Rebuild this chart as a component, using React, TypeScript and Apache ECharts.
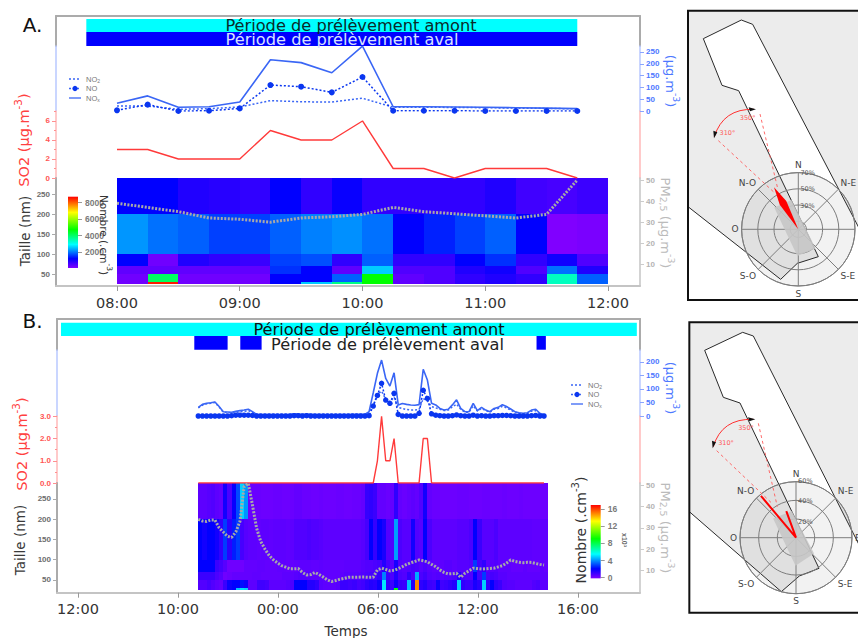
import React, { useEffect, useRef } from "react";
import * as echarts from "echarts";

const FONT = "DejaVu Sans";
const TICKFONT = "Liberation Sans";

// ---------- Panel A data ----------
const timesA = [8, 8.25, 8.5, 8.75, 9, 9.25, 9.5, 9.75, 10, 10.25, 10.5, 10.75, 11, 11.25, 11.5, 11.75];
const noxA = [33, 64, 16, 18, 38, 217, 205, 162, 275, 18, 18, 17, 16, 14, 12, 10];
const noA = [3, 27, 0, 1, 11, 110, 103, 79, 144, 1, 1, 1, 0, 0, 0, 0];
const no2A = [21, 21, 7, 10, 17, 44, 39, 38, 54, 16, 16, 15, 14, 12, 11, 9];
const so2A = [3, 3, 2, 2, 2, 5, 4, 4, 6, 1, 1, 0, 1, 1, 1, 0];
const pmA = [39, 37, 35, 32, 31.4, 30, 32, 32.6, 33.7, 37, 35, 34, 33, 32, 33.7, 50];
const rowEdgesA = [290, 200, 100, 70, 50, 30, 25];
const heatA = [
  [1220, 1220, 940, 880, 800, 1220, 800, 1150, 800, 800, 800, 800, 940, 660, 600, 700],
  [2230, 1977, 1865, 1650, 1650, 1865, 2080, 2190, 1977, 1220, 1435, 1650, 1865, 1220, 100, 150],
  [1220, 240, 940, 800, 730, 1650, 1760, 800, 1865, 800, 800, 1220, 1540, 800, 1080, 520],
  [380, 380, 380, 380, 380, 1540, 1220, 380, 2594, 520, 520, 940, 1080, 520, 1977, 940],
  [240, 4060, 240, 240, 240, 1220, 1220, 1865, 4744, 380, 520, 800, 940, 800, 3390, 1865],
  [240, 8500, 240, 240, 240, 1220, 2594, 3800, 4744, 380, 520, 800, 940, 800, 3390, 1865],
];
const amontA = [[7.75, 11.75]];
const avalA = [[7.75, 11.75]];
const timeTicksA = [8, 9, 10, 11, 12];
const timeLabelsA = ["08:00", "09:00", "10:00", "11:00", "12:00"];

// ---------- Panel B data ----------
const noxB = [32, 43, 47, 49, 52, 35, 16, 15, 14, 17, 20, 22, 25, 16, 6, 5, 5, 5, 5, 5, 5, 5, 6, 8, 7, 6, 7, 6, 5, 5, 5, 5, 5, 5, 5, 5, 5, 6, 6, 6, 6, 16, 86, 158, 207, 139, 111, 160, 41, 46, 43, 41, 40, 42, 173, 133, 47, 41, 28, 22, 25, 41, 60, 28, 16, 16, 47, 20, 32, 22, 16, 28, 32, 42, 35, 26, 16, 12, 10, 12, 22, 25, 10, 5];
const noB = [0, 0, 0, 0, 0, 0, 0, 0, 1, 3, 3, 3, 3, 2, 0, 0, 0, 0, 0, 0, 0, 0, 0, 1, 1, 0, 1, 0, 0, 0, 0, 0, 0, 0, 0, 0, 0, 0, 0, 0, 0, 1, 37, 76, 121, 59, 47, 84, 6, 0, 0, 0, 0, 10, 95, 65, 8, 3, 1, 0, 0, 1, 4, 1, 0, 0, 3, 0, 1, 0, 0, 1, 1, 2, 2, 1, 0, 0, 0, 0, 1, 2, 0, 0];
const no2B = [30, 40, 45, 47, 50, 33, 14, 13, 12, 12, 15, 17, 20, 13, 5, 4, 4, 4, 4, 4, 4, 4, 5, 6, 5, 5, 5, 5, 4, 4, 4, 4, 4, 4, 4, 4, 4, 5, 5, 5, 5, 14, 40, 80, 92, 62, 52, 70, 32, 28, 24, 22, 22, 24, 65, 55, 35, 30, 25, 20, 22, 34, 44, 25, 14, 14, 38, 18, 28, 20, 14, 25, 28, 36, 30, 22, 14, 10, 8, 10, 18, 20, 8, 4];
const so2B = [0, 0, 0, 0, 0, 0, 0, 0, 0, 0, 0, 0, 0, 0, 0, 0, 0, 0, 0, 0, 0, 0, 0, 0, 0, 0, 0, 0, 0, 0, 0, 0, 0, 0, 0, 0, 0, 0, 0, 0, 0, 0, 0, 1, 3, 1, 1, 2, 0, 0, 0, 0, 0, 0, 2, 2, 0, 0, 0, 0, 0, 0, 0, 0, 0, 0, 0, 0, 0, 0, 0, 0, 0, 0, 0, 0, 0, 0, 0, 0, 0, 0, 0, 0];
const pmB = [34, 33.2, 33, 33.7, 33.7, 30, 28, 26, 25.5, 28, 33, 49.4, 51, 40.7, 29.8, 23.5, 20, 17, 15, 13.5, 12.2, 11.5, 10.7, 10.7, 10.8, 9, 7.8, 8, 9, 8, 6.8, 5.5, 4.7, 5.2, 5.8, 6.2, 6.7, 6.7, 6.7, 6.8, 6.8, 6.7, 6.7, 10.2, 11, 10.4, 9.7, 10, 10.8, 11.7, 12.8, 13.5, 14.2, 14.9, 14.5, 14, 12.8, 11.7, 10.2, 9, 8.3, 8.4, 8.6, 6.7, 8.6, 9.8, 11, 10.8, 10.6, 10.7, 10.9, 11, 11.6, 12.2, 13.4, 14.9, 14.2, 13.8, 13.6, 13.8, 13.7, 13.2, 12.8, 12.5];
const rowEdgesB = [289, 200, 100, 70, 50, 30, 25];
const heatB = [
  [0.6, 0.6, 0.7, 0.8, 0.6, 0.5, 1.9, 0.9, 2.1, 3.2, 5, 4.2, 0.4, 0.4, 0.4, 0.35, 0.35, 0.35, 0.4, 0.4, 0.35, 0.35, 0.4, 0.5, 0.5, 0.4, 0.4, 0.35, 0.35, 0.4, 0.35, 0.35, 0.35, 0.4, 0.4, 0.35, 0.35, 0.4, 0.4, 0.5, 1.3, 1.4, 1.2, 0.5, 0.5, 0.4, 0.5, 1.4, 0.5, 0.4, 0.5, 0.6, 0.5, 0.8, 1.9, 0.5, 0.4, 0.4, 0.35, 0.35, 0.35, 0.35, 0.4, 0.4, 0.4, 0.35, 0.35, 0.35, 0.4, 0.4, 0.35, 0.35, 0.35, 0.4, 0.35, 0.35, 0.35, 0.4, 0.35, 0.35, 0.35, 0.35, 0.35, 0.35],
  [2.2, 1.9, 2.2, 2.2, 1.9, 1.4, 3, 1.5, 2.6, 3, 1, 0.7, 0.6, 0.6, 0.55, 0.6, 0.6, 0.55, 0.6, 0.6, 0.6, 0.55, 0.6, 0.8, 0.8, 0.8, 0.9, 0.8, 0.8, 0.7, 0.6, 0.6, 0.6, 0.6, 0.6, 0.6, 0.6, 0.6, 0.6, 0.7, 1, 2.2, 1.3, 2.2, 1.8, 0.8, 0.8, 4.3, 0.9, 0.7, 0.7, 1.9, 0.8, 0.7, 2.2, 0.9, 0.6, 0.6, 0.6, 0.6, 0.6, 0.6, 0.7, 0.7, 0.7, 0.9, 2.2, 1.2, 0.7, 0.7, 0.7, 0.9, 0.6, 0.6, 0.6, 0.6, 0.6, 0.6, 0.6, 0.6, 0.55, 0.55, 0.55, 0.55],
  [2.2, 2.2, 2.2, 2.2, 1.2, 1, 0.7, 0.3, 0.3, 0.3, 0.3, 0.5, 0.5, 0.5, 0.55, 0.55, 0.5, 0.5, 0.5, 0.55, 0.55, 0.5, 0.5, 0.55, 0.6, 0.6, 0.6, 0.55, 0.55, 0.6, 0.55, 0.55, 0.55, 0.55, 0.55, 0.6, 0.6, 0.6, 0.6, 0.7, 0.8, 0.8, 0.9, 1, 1.6, 1, 0.7, 1.8, 0.8, 0.7, 0.8, 1, 0.9, 0.7, 0.9, 0.7, 0.6, 0.6, 0.6, 0.7, 0.7, 0.6, 0.7, 0.7, 0.7, 0.8, 3, 1.1, 1.4, 0.7, 0.7, 0.8, 0.6, 0.6, 0.6, 0.5, 0.5, 0.5, 0.6, 0.5, 0.5, 0.5, 0.6, 0.5],
  [1.2, 1.2, 1.2, 1.2, 0.9, 0.7, 0.3, 0.4, 0.5, 0.5, 0.5, 0.5, 0.5, 0.55, 0.55, 0.5, 0.5, 0.5, 0.5, 0.5, 0.6, 0.6, 0.6, 0.7, 0.8, 0.8, 0.7, 0.6, 0.6, 0.6, 0.55, 0.55, 0.55, 0.55, 0.6, 0.7, 0.7, 0.7, 0.7, 0.8, 0.9, 1, 1, 1.3, 3.9, 1.2, 0.9, 1.6, 0.9, 0.8, 1.4, 0.9, 4.5, 0.9, 1.1, 0.8, 0.7, 0.8, 0.7, 0.8, 0.8, 0.9, 1.6, 0.9, 0.8, 0.8, 2.2, 1, 3, 0.9, 1, 0.9, 0.7, 0.7, 0.6, 0.6, 0.6, 0.6, 0.6, 0.6, 0.6, 0.6, 0.6, 0.6],
  [0.8, 0.8, 1, 0.8, 0.6, 0.5, 1.2, 2, 2.2, 2.2, 2.4, 2, 0.6, 0.6, 1.1, 1.1, 1, 0.6, 0.6, 0.6, 0.6, 0.7, 0.9, 2.2, 2.2, 2.2, 1.6, 1.6, 1.4, 0.7, 0.6, 0.6, 0.6, 0.7, 1.2, 1.2, 1.1, 1.2, 1, 1.1, 1.4, 1.6, 1.5, 2, 5.3, 1.4, 1.2, 2, 1.3, 1.2, 4.8, 1.6, 15, 1.4, 1.6, 1.2, 1.1, 2, 1.1, 1.2, 1.4, 1.6, 5, 1.4, 1.2, 1.2, 1.8, 1.5, 5, 1.4, 2.2, 1.4, 1.2, 0.8, 0.7, 0.7, 0.6, 0.6, 0.6, 0.6, 0.8, 0.9, 0.6, 0.6],
  [0.8, 0.8, 1, 0.8, 0.6, 0.5, 1.2, 2, 2.2, 4.8, 5.2, 5, 0.6, 0.6, 1.1, 1.1, 1, 0.6, 0.6, 0.6, 0.6, 0.7, 0.9, 2.2, 2.2, 2.2, 1.6, 1.6, 1.4, 0.7, 0.6, 0.6, 0.6, 0.7, 1.2, 1.2, 1.1, 1.2, 1, 1.1, 1.4, 1.6, 1.5, 2, 5.3, 1.4, 1.2, 9, 1.3, 1.2, 4.8, 1.6, 15, 1.4, 1.6, 1.2, 1.1, 2, 1.1, 1.2, 1.4, 1.6, 5, 1.4, 1.2, 1.2, 1.8, 1.5, 5, 1.4, 2.2, 1.4, 1.2, 0.8, 0.7, 0.7, 0.6, 0.6, 0.6, 0.6, 0.8, 0.9, 0.6, 0.6],
];
const amontB = [[-1.02, 33.54]];
const avalB = [[6.98, 8.98], [9.74, 11.02], [27.52, 28.08]];
const timeTicksB = [0, 6, 12, 18, 24, 30];
const timeLabelsB = ["12:00", "10:00", "00:00", "06:00", "12:00", "16:00"];
const timesB = noxB.map((_, i) => 7.22 + i * 0.25);

// ---------- Wind roses ----------
const directions = ["N", "N-E", "E", "S-E", "S", "S-O", "O", "N-O"];
const roseGreyA = [[40, 312], [37, 347], [32, 138], [33, 182]];
const roseRedA = [[0, 0], [38, 323], [60, 330], [38, 337]];
const roseGreyB = [[32, 310], [29, 351], [25.6, 131], [30, 181]];
const roseRedB = [[58.5, 320], [0, 0], [30.4, 340]];
const ringsA = [10, 30, 50, 70];
const ringLabelsA = [30, 50, 70];
const ringsB = [20, 40, 60];

const STOPS: [number, number[]][] = [
  [0, [128, 0, 255]], [0.13, [0, 0, 255]], [0.33, [0, 255, 255]],
  [0.54, [0, 255, 0]], [0.78, [255, 255, 0]], [1, [255, 0, 0]],
];
function rainbow(t: number) {
  const c = Math.max(0, Math.min(1, t));
  for (let i = 1; i < STOPS.length; i++) {
    if (c <= STOPS[i][0]) {
      const f = (c - STOPS[i - 1][0]) / (STOPS[i][0] - STOPS[i - 1][0]);
      const a = STOPS[i - 1][1], b = STOPS[i][1];
      return `rgb(${a.map((v, k) => Math.round(v + (b[k] - v) * f)).join(",")})`;
    }
  }
  return "rgb(255,0,0)";
}
const GRAD = STOPS.map(([o, c]) => ({ offset: 1 - o, color: `rgb(${c.join(",")})` })).reverse();

function buildOption() {
  const grids: any[] = [], xAxes: any[] = [], yAxes: any[] = [], series: any[] = [];
  const addGrid = (left: number, top: number, width: number, height: number) => {
    grids.push({ left, top, width, height, containLabel: false });
    return grids.length - 1;
  };
  const addX = (g: number, min: number, max: number, extra: any = { show: false }) => {
    xAxes.push({ gridIndex: g, type: "value", min, max, splitLine: { show: false }, ...extra });
    return xAxes.length - 1;
  };
  const addY = (g: number, position: string, min: number, max: number, o: any) => {
    const labelled = !!o.ticks;
    yAxes.push({
      gridIndex: g, type: "value", position, min, max, inverse: !!o.inverse, splitLine: { show: false },
      axisLine: { show: !!o.line, onZero: false, lineStyle: { color: o.line, width: o.width || 1.5 } },
      axisTick: { show: labelled, length: o.tickLen || 4, customValues: o.ticks, lineStyle: { color: o.tickColor || o.labelColor, width: 1 } },
      axisLabel: {
        show: labelled, customValues: o.ticks, color: o.labelColor, fontSize: o.size || 8, fontWeight: "bold",
        fontFamily: TICKFONT, margin: o.margin || 6, formatter: o.fmt,
      },
    });
    const idx = yAxes.length - 1;
    if (o.minor) {
      yAxes.push({
        gridIndex: g, type: "value", position, min, max, splitLine: { show: false },
        axisLine: { show: false, onZero: false },
        axisTick: { show: true, length: 2, customValues: o.minor, lineStyle: { color: o.tickColor || o.labelColor, width: 1 } },
        axisLabel: { show: false },
      });
    }
    return idx;
  };
  const bandSeries = (xi: number, yi: number, ranges: number[][], y0: number, y1: number, color: string) => ({
    type: "custom", xAxisIndex: xi, yAxisIndex: yi, z: 2, silent: true,
    data: ranges.map((r) => [r[0], r[1], y0, y1]),
    renderItem: (_: any, api: any) => {
      const a = api.coord([api.value(0), api.value(2)]), b = api.coord([api.value(1), api.value(3)]);
      return { type: "rect", shape: { x: a[0], y: a[1], width: b[0] - a[0], height: b[1] - a[1] }, style: { fill: color } };
    },
  });
  const heatSeries = (xi: number, yi: number, times: number[], step: number, edges: number[], rows: number[][], lo: number, hi: number) => {
    const cells: number[][] = [];
    rows.forEach((row, r) => row.forEach((v, c) => cells.push([times[c], times[c] + step, edges[r], edges[r + 1], v])));
    return {
      type: "custom", xAxisIndex: xi, yAxisIndex: yi, z: 2, silent: true, data: cells,
      renderItem: (_: any, api: any) => {
        const a = api.coord([api.value(0), api.value(2)]), b = api.coord([api.value(1), api.value(3)]);
        const col = rainbow((api.value(4) - lo) / (hi - lo));
        const x0 = Math.round(a[0]), x1 = Math.round(b[0]), y0 = Math.round(a[1]), y1 = Math.round(b[1]);
        return { type: "rect", shape: { x: x0, y: y0, width: x1 - x0, height: y1 - y0 }, style: { fill: col } };
      },
    };
  };
  const barSeries = (xi: number, yi: number, lo: number, hi: number) => ({
    type: "custom", xAxisIndex: xi, yAxisIndex: yi, z: 3, silent: true, data: [[0, 1, lo, hi]],
    renderItem: (_: any, api: any) => {
      const a = api.coord([api.value(0), api.value(3)]), b = api.coord([api.value(1), api.value(2)]);
      return {
        type: "rect", shape: { x: a[0], y: a[1], width: b[0] - a[0], height: b[1] - a[1] },
        style: { fill: new echarts.graphic.LinearGradient(0, 0, 0, 1, GRAD) },
      };
    },
  });
  const zipXY = (xs: number[], ys: number[]) => ys.map((v, i) => [xs[i], v]);
  const BLUE = "#3a66f5", DOTBLUE = "#0a36f0", RED = "#ff3a3a";
  const GREYAX = "#ababab", LBLUE = "#b9c9ff", LRED = "#ffb8b8", LGREY = "#c4c4c4";
  const BLUEL = "#4d78ff", REDL = "#ff5555", SIZEL = "#6d6d6d", PML = "#b4b4b4";

  const panel = (p: any) => {
    const { left, width, xmin, xmax, t0, t1, t2, t3, t4 } = p;
    // bands
    const g0 = addGrid(left, t0, width, t1 - t0);
    const x0 = addX(g0, xmin, xmax, {
      position: "top", axisLine: { show: true, onZero: false, lineStyle: { color: GREYAX, width: 2 } },
      axisTick: { show: false }, axisLabel: { show: false },
    });
    const y0 = addY(g0, "left", 0, t1 - t0, { line: GREYAX, inverse: true, width: 2 });
    addY(g0, "right", 0, t1 - t0, { line: GREYAX, width: 2 });
    series.push(bandSeries(x0, y0, p.amont, p.c0, p.c1, "#00ffff"));
    series.push(bandSeries(x0, y0, p.aval, p.c1, p.c2, "#0000ff"));
    // NOx group
    const g1 = addGrid(left, t1, width, t2 - t1);
    const x1 = addX(g1, xmin, xmax);
    addY(g1, "left", 0, p.noMax, { line: LBLUE });
    const y1 = addY(g1, "right", 0, p.noMax, { line: LBLUE, ticks: p.noTicks, labelColor: BLUEL, tickColor: "#8aa5ff" });
    const lineBase = { type: "line", xAxisIndex: x1, yAxisIndex: y1, showSymbol: false, z: 3, silent: true };
    series.push({ ...lineBase, name: "NOx", data: zipXY(p.times, p.nox), lineStyle: { color: BLUE, width: 1.6 } });
    series.push({ ...lineBase, name: "NO2", data: zipXY(p.times, p.no2), lineStyle: { color: BLUE, width: 1.5, type: [2, 2] } });
    series.push({
      ...lineBase, name: "NO", data: zipXY(p.times, p.no), showSymbol: true, symbol: "circle", symbolSize: p.dot,
      itemStyle: { color: DOTBLUE }, lineStyle: { color: DOTBLUE, width: 1.5, type: [2, 2] },
    });
    // SO2 group
    const g2 = addGrid(left, t2, width, t3 - t2);
    const x2 = addX(g2, xmin, xmax);
    const y2 = addY(g2, "left", 0, p.soMax, { line: LRED, ticks: p.soTicks, minor: p.soMinor, labelColor: REDL, tickColor: "#ff9090", fmt: p.soFmt });
    addY(g2, "right", 0, p.soMax, { line: LRED });
    series.push({ type: "line", xAxisIndex: x2, yAxisIndex: y2, showSymbol: false, z: 3, silent: true, data: zipXY(p.times, p.so2), lineStyle: { color: RED, width: 1.4 } });
    // heat + PM
    const g3 = addGrid(left, t3, width, t4 - t3);
    const x3 = addX(g3, xmin, xmax, {
      position: "bottom", axisLine: { show: true, onZero: false, lineStyle: { color: LGREY, width: 2 } },
      axisTick: { show: true, length: 5, customValues: p.tickVals, lineStyle: { color: "#999" } },
      axisLabel: {
        show: true, customValues: p.tickVals, color: "#333", fontSize: 14.5, fontFamily: FONT, margin: 9,
        formatter: (v: number) => p.tickLabels[p.tickVals.indexOf(v)] ?? "",
      },
    });
    const y3 = addY(g3, "left", p.szMin, p.szMax, { line: GREYAX, width: 2, ticks: [50, 100, 150, 200, 250], labelColor: SIZEL, tickColor: "#aaa" });
    const y4 = addY(g3, "right", p.pmMin, p.pmMax, { line: LGREY, ticks: [10, 20, 30, 40, 50], labelColor: PML, tickColor: "#ccc" });
    series.push(heatSeries(x3, y3, p.heatTimes, p.step, p.edges, p.heat, p.lo, p.hi));
    series.push({
      type: "line", xAxisIndex: x3, yAxisIndex: y4, showSymbol: false, z: 4, silent: true,
      data: zipXY(p.times, p.pm), lineStyle: { color: "#a9a9a9", width: 3, type: [2, 1.5] },
    });
    // colour bar
    const g4 = addGrid(p.bx, p.by, 10, p.bh);
    const x4 = addX(g4, 0, 1);
    const y5 = addY(g4, "right", p.lo, p.barTop, { ticks: p.barTicks, labelColor: "#7a7a7a", tickColor: "#999", margin: 7, tickLen: 4, size: p.barSize, fmt: p.barFmt });
    series.push(barSeries(x4, y5, p.barLo, p.barTop));
  };

  panel({
    left: 56, width: 584, xmin: 7.503, xmax: 12.261, t0: 16, t1: 46, t2: 111, t3: 178, t4: 286,
    amont: amontA, aval: avalA, c0: 3, c1: 16, c2: 30, noMax: 275.4, noTicks: [0, 50, 100, 150, 200, 250],
    soMax: 7.05, soTicks: [0, 2, 4, 6], soMinor: [1, 3, 5, 7], soFmt: (v: number) => String(v),
    times: timesA, nox: noxA, no: noA, no2: no2A, so2: so2A, pm: pmA, dot: 6,
    tickVals: timeTicksA, tickLabels: timeLabelsA, szMin: 20, szMax: 290, pmMin: -0.24, pmMax: 50.95,
    heatTimes: timesA, step: 0.25, edges: rowEdgesA, heat: heatA, lo: 100, hi: 8700,
    bx: 68, by: 196.7, bh: 71.3, barTicks: [2000, 4000, 6000, 8000], barLo: 100, barTop: 8700, barSize: 8.5,
    barFmt: (v: number) => String(v),
  });
  panel({
    left: 57, width: 583, xmin: -1.26, xmax: 33.73, t0: 319, t1: 350, t2: 416, t3: 483, t4: 592.7,
    amont: amontB, aval: avalB, c0: 3.7, c1: 17, c2: 30.7, noMax: 244.4, noTicks: [0, 50, 100, 150, 200],
    soMax: 3.015, soTicks: [0, 1, 2, 3], soMinor: [0.5, 1.5, 2.5], soFmt: (v: number) => v.toFixed(1),
    times: timesB, nox: noxB, no: noB, no2: no2B, so2: so2B, pm: pmB, dot: 5.5,
    tickVals: timeTicksB, tickLabels: timeLabelsB, szMin: 18.6, szMax: 289.5, pmMin: -0.54, pmMax: 51.1,
    heatTimes: timesB, step: 0.25, edges: rowEdgesB, heat: heatB, lo: 0, hi: 17,
    bx: 590.7, by: 505, bh: 72.7, barTicks: [0, 4, 8, 12, 16], barLo: -0.15, barTop: 17, barSize: 8.5,
    barFmt: (v: number) => String(v),
  });

  // wind roses
  const polarOf = (cx: number, cy: number, r: number) => ({ center: [cx, cy], radius: r });
  const angleAxis = (pi: number) => ({
    polarIndex: pi, type: "value", min: 0, max: 360, interval: 45, startAngle: 90, clockwise: true,
    axisLine: { lineStyle: { color: "#7d7d7d", width: 1 } }, axisTick: { show: false },
    splitLine: { show: true, lineStyle: { color: "#7d7d7d", width: 1 } },
    axisLabel: { color: "#444", fontSize: 9, fontFamily: FONT, margin: 3, formatter: (v: number) => directions[v / 45] ?? "" },
  });
  const radiusAxis = (pi: number, max: number, rings: number[], labs: number[]) => ({
    polarIndex: pi, type: "value", min: 0, max, axisLine: { show: false },
    axisTick: { show: false, customValues: rings },
    splitLine: { show: true, lineStyle: { color: "#7d7d7d", width: 1 } },
    axisLabel: { show: false, customValues: labs },
  });
  const poly = (pi: number, pts: number[][], style: any, z: number, closed = true) => ({
    type: "custom", coordinateSystem: "polar", polarIndex: pi, z, silent: true, data: [[0, 0]],
    renderItem: (_: any, api: any) => ({
      type: closed ? "polygon" : "polyline",
      shape: { points: pts.map((q) => api.coord([q[0], q[1]])) }, style,
    }),
  });
  series.push(poly(0, roseGreyA, { fill: "#c6c6c6", opacity: 0.9 }, 1));
  series.push(poly(0, roseRedA, { fill: "#ff0000" }, 3));
  series.push(poly(1, roseGreyB, { fill: "#c6c6c6", opacity: 0.9 }, 1));
  series.push(poly(1, roseRedB, { fill: "none", stroke: "#ff0000", lineWidth: 2 }, 3, false));

  return {
    animation: false,
    backgroundColor: "#fff",
    grid: grids, xAxis: xAxes, yAxis: yAxes, series,
    polar: [polarOf(798.3, 229.3, 56.7), polarOf(796, 537.7, 56)],
    angleAxis: [angleAxis(0), angleAxis(1)],
    radiusAxis: [radiusAxis(0, 70, ringsA, ringLabelsA), radiusAxis(1, 60, ringsB, ringsB)],
    graphic: { elements: buildGraphic() },
  };
}

function label(text: string, x: number, y: number, o: any = {}) {
  const size = o.size || 14;
  return {
    type: "text", x, y, rotation: o.rot || 0, z: o.z ?? 10, silent: true,
    style: {
      text, fill: o.color || "#222", font: `${o.weight || "normal"} ${size}px "${o.family || FONT}"`,
      fontFamily: o.family || FONT, fontSize: size, fontWeight: o.weight || "normal",
      textAlign: o.align || "center", textVerticalAlign: "middle", verticalAlign: "middle",
      rich: o.rich,
    },
  };
}
const UP = Math.PI / 2, DOWN = -Math.PI / 2;
function richTitle(color: string, size: number) {
  const lh = size + 4;
  return {
    a: { fontFamily: FONT, fontSize: size, fill: color, color, lineHeight: lh, verticalAlign: "bottom" },
    s: { fontFamily: FONT, fontSize: size * 0.72, fill: color, color, lineHeight: lh, verticalAlign: "top" },
    d: { fontFamily: FONT, fontSize: size * 0.72, fill: color, color, lineHeight: lh, verticalAlign: "bottom" },
  };
}
const SQ3 = "{a|(µg.m}{s|-3}{a|)}";

function mapElements(ox: number, oy: number, m: any) {
  const P = (pts: number[][]) => pts.map(([x, y]) => [ox + x / 3, oy + y / 3]);
  const p1 = (x: number, y: number) => [ox + x / 3, oy + y / 3];
  const RED = "#ff5a5a";
  const els: any[] = [];
  els.push({ type: "rect", z: -12, silent: true, shape: { x: ox + m.fx / 3, y: oy + m.fy / 3, width: 190, height: (m.fb - m.fy) / 3 }, style: { fill: "#ececec" } });
  els.push({ type: "polygon", z: -11, silent: true, shape: { points: P(m.white) }, style: { fill: "#ffffff" } });
  els.push({ type: "circle", z: -10.5, silent: true, shape: { cx: m.cx, cy: m.cy, r: m.r }, style: { fill: "rgba(0,0,0,0.05)" } });
  els.push({ type: "polyline", z: -10, silent: true, shape: { points: P(m.edgeA) }, style: { stroke: "#2a2a2a", lineWidth: 1, fill: "none" } });
  els.push({ type: "polyline", z: -10, silent: true, shape: { points: P(m.edgeB) }, style: { stroke: "#2a2a2a", lineWidth: 1, fill: "none" } });
  els.push({ type: "rect", z: -9, silent: true, shape: { x: ox + m.fx / 3, y: oy + m.fy / 3, width: 190, height: (m.fb - m.fy) / 3 }, style: { fill: "none", stroke: "#111", lineWidth: 2 } });
  m.dash.forEach((d: number[]) => {
    const a = p1(d[0], d[1]), b = p1(d[2], d[3]);
    els.push({ type: "line", z: 6, silent: true, shape: { x1: a[0], y1: a[1], x2: b[0], y2: b[1] }, style: { stroke: RED, lineWidth: 0.9, lineDash: [3, 3] } });
  });
  const s = p1(m.arc[0], m.arc[1]), c = p1(m.arc[2], m.arc[3]), e = p1(m.arc[4], m.arc[5]);
  els.push({ type: "bezierCurve", z: 6, silent: true, shape: { x1: s[0], y1: s[1], cpx1: c[0], cpy1: c[1], x2: e[0], y2: e[1] }, style: { stroke: "#ff3030", lineWidth: 1, fill: "none" } });
  els.push({ type: "polygon", z: 7, silent: true, shape: { points: P(m.head1) }, style: { fill: "#111" } });
  els.push({ type: "polygon", z: 7, silent: true, shape: { points: P(m.head2) }, style: { fill: "#111" } });
  m.notes.forEach((n: any) => {
    const q = p1(n[1], n[2]);
    els.push(label(n[0], q[0], q[1], { size: 6.5, color: "#ff5a5a" }));
  });
  m.rings.forEach((n: any) => {
    const q = p1(n[1], n[2]);
    els.push(label(n[0], q[0], q[1], { size: 6.5, color: "#555", z: 8 }));
  });
  return els;
}

function legend(x0: number, xt: number, y0: number, dy: number) {
  const els: any[] = [];
  const col = "#3a66f5";
  const line = (y: number, dash: any) => ({ type: "line", z: 10, silent: true, shape: { x1: x0, y1: y, x2: x0 + 12, y2: y }, style: { stroke: col, lineWidth: 1.3, lineDash: dash } });
  els.push(line(y0, [2, 2]));
  els.push(line(y0 + dy, [2, 2]));
  els.push({ type: "circle", z: 10, silent: true, shape: { cx: x0 + 6, cy: y0 + dy, r: 2.6 }, style: { fill: "#0a36f0" } });
  els.push(line(y0 + 2 * dy, null));
  const rich = {
    a: { fontFamily: TICKFONT, fontSize: 7.5, color: "#777", verticalAlign: "middle" },
    d: { fontFamily: TICKFONT, fontSize: 5, color: "#777", verticalAlign: "bottom" },
  };
  els.push(label("{a|NO}{d|2}", xt, y0, { size: 7.5, color: "#777", align: "left", rich, family: TICKFONT }));
  els.push(label("{a|NO}", xt, y0 + dy, { size: 7.5, color: "#777", align: "left", rich, family: TICKFONT }));
  els.push(label("{a|NO}{d|x}", xt, y0 + 2 * dy, { size: 7.5, color: "#777", align: "left", rich, family: TICKFONT }));
  return els;
}

function buildGraphic() {
  const els: any[] = [];
  const pm = "{a|PM}{d|2,5}{a| (µg.m}{s|-3}{a|)}";
  // Panel A texts
  els.push(label("A.", 32.5, 25, { size: 20, color: "#111" }));
  els.push(label("Période de prélèvement amont", 351, 25, { size: 16.2, color: "#0a2a2a" }));
  els.push(label("Période de prélèvement aval", 342, 39, { size: 16.2, color: "#d8e0ff" }));
  els.push(label("{a|SO2 (µg.m}{s|-3}{a|)}", 22, 140, { rot: UP, color: "#ff4040", size: 14.5, rich: richTitle("#ff4040", 14.5) }));
  els.push(label("Taille (nm)", 25, 231, { rot: UP, color: "#3a3a3a", size: 13.5 }));
  els.push(label(SQ3, 672, 81, { rot: DOWN, color: "#4d78ff", size: 13, rich: richTitle("#4d78ff", 13) }));
  els.push(label(pm, 667, 223, { rot: DOWN, color: "#bbbbbb", size: 13, rich: richTitle("#bbbbbb", 13) }));
  els.push(label("{a|Nombre (.cm}{s|-3}{a|)}", 106, 235, { rot: DOWN, color: "#333", size: 10.5, rich: richTitle("#333", 10.5) }));
  // Panel B texts
  els.push(label("B.", 32.5, 321, { size: 20, color: "#111" }));
  els.push(label("Période de prélèvement amont", 379, 329, { size: 16.2, color: "#111" }));
  els.push(label("Période de prélèvement aval", 387.5, 344, { size: 16.2, color: "#222" }));
  els.push(label("{a|SO2 (µg.m}{s|-3}{a|)}", 20, 444, { rot: UP, color: "#ff4040", size: 14.5, rich: richTitle("#ff4040", 14.5) }));
  els.push(label("Taille (nm)", 20, 540, { rot: UP, color: "#3a3a3a", size: 13.5 }));
  els.push(label(SQ3, 672, 388, { rot: DOWN, color: "#4d78ff", size: 13, rich: richTitle("#4d78ff", 13) }));
  els.push(label(pm, 667, 528, { rot: DOWN, color: "#bbbbbb", size: 13, rich: richTitle("#bbbbbb", 13) }));
  els.push(label("{a|Nombre (.cm}{s|-3}{a|)}", 579, 530, { rot: UP, color: "#333", size: 14, rich: richTitle("#333", 14) }));
  els.push(label("x10³", 624, 540, { rot: DOWN, size: 7, color: "#666", weight: "bold", family: TICKFONT }));
  els.push(label("Temps", 346, 631, { size: 13.5, color: "#333" }));
  els.push(...legend(69, 86, 79, 9.5));
  els.push(...legend(571, 588, 385, 9.5));
  els.push(...mapElements(680, 0, {
    fx: 24, fy: 32, fb: 900, cx: 798.3, cy: 229.3, r: 56.7,
    white: [[70, 116], [184, 60], [218, 73], [540, 690], [540, 900], [24, 900], [24, 620], [302, 838], [352, 790], [415, 770], [176, 272], [126, 256]],
    edgeA: [[70, 116], [184, 60], [218, 73], [540, 690]],
    edgeB: [[24, 620], [302, 838], [352, 790], [415, 770], [176, 272], [126, 256], [70, 116]],
    dash: [[240, 342, 293, 565], [115, 422, 280, 575]],
    arc: [222, 328, 130, 325, 103, 410],
    head1: [[228, 328], [206, 322], [210, 334]],
    head2: [[102, 415], [100, 392], [112, 397]],
    notes: [["350°", 203, 353], ["310°", 142, 400]],
    rings: [["30%", 382, 618], ["50%", 383, 566], ["70%", 383, 518]],
  }));
  els.push(...mapElements(680, 315, {
    fx: 28, fy: 22, fb: 893, cx: 796, cy: 537.7, r: 56,
    white: [[74, 106], [188, 52], [220, 63], [540, 695], [540, 893], [28, 893], [28, 590], [304, 830], [358, 783], [417, 760], [180, 264], [130, 247]],
    edgeA: [[74, 106], [188, 52], [220, 63], [540, 695]],
    edgeB: [[28, 590], [304, 830], [358, 783], [417, 760], [180, 264], [130, 247], [74, 106]],
    dash: [[235, 325, 292, 575], [110, 407, 278, 567]],
    arc: [220, 313, 125, 310, 100, 395],
    head1: [[226, 313], [204, 307], [208, 319]],
    head2: [[98, 400], [96, 377], [108, 382]],
    notes: [["350°", 198, 338], ["310°", 138, 385]],
    rings: [["20%", 376, 620], ["40%", 376, 557], ["60%", 376, 498]],
  }));
  return els;
}

export default function App() {
  const ref = useRef<HTMLDivElement>(null);
  useEffect(() => {
    const chart = echarts.init(ref.current!, null, { renderer: "svg" });
    chart.setOption(buildOption() as any);
    return () => chart.dispose();
  }, []);
  return <div ref={ref} style={{ position: "absolute", left: 0, top: 0, width: 858, height: 638 }} />;
}
